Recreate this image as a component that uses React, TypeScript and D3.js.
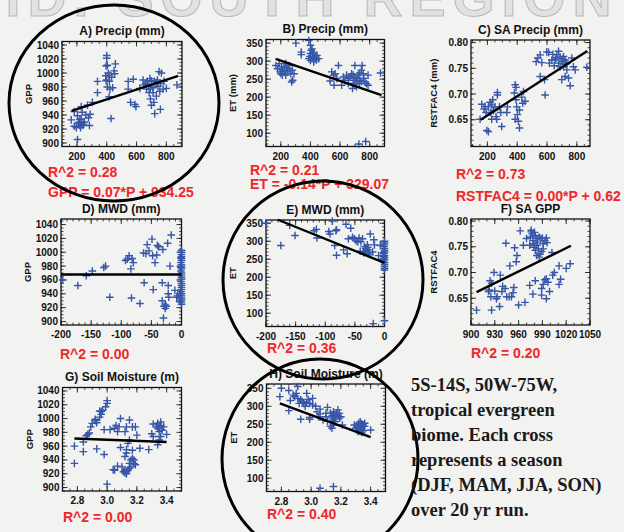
import React from "react";
import * as d3 from "d3";

// ---------- DATA ----------
const precipGPP: [number, number][] = [[162,933],[182,924],[196,922],[204,905],[182,945],[204,939],[210,928],[218,925],[225,922],[232,929],[220,934],[240,925],[244,927],[229,952],[271,954],[304,958],[278,936],[284,925],[229,934],[289,941],[250,930],[260,940],[235,944],[215,930],[338,988],[338,972],[400,1025],[400,1021],[396,1010],[404,1011],[393,996],[416,997],[400,990],[418,988],[404,980],[422,977],[440,979],[416,966],[429,935],[449,1003],[458,1013],[453,999],[433,994],[396,989],[410,1000],[544,988],[578,991],[544,977],[560,958],[589,955],[596,952],[622,978],[644,990],[662,985],[673,988],[682,981],[693,977],[684,972],[693,963],[700,954],[716,958],[722,942],[733,986],[744,981],[751,1002],[767,1000],[760,948],[778,977],[784,988],[711,972],[733,967],[756,974],[800,978],[871,983],[711,979],[700,989],[667,977],[650,983],[690,992],[720,988],[740,990],[760,985]];
const precipET: [number, number][] = [[167,288],[178,279],[189,293],[200,265],[211,275],[222,284],[233,261],[244,270],[256,279],[267,265],[256,288],[278,275],[233,293],[211,261],[289,265],[273,242],[280,247],[195,270],[205,285],[240,282],[225,272],[302,350],[338,325],[338,318],[389,357],[400,344],[411,334],[400,321],[389,307],[400,302],[422,307],[433,311],[444,316],[456,307],[422,298],[411,311],[396,313],[440,303],[416,325],[422,321],[405,330],[589,288],[544,270],[556,261],[567,265],[578,252],[533,245],[560,233],[622,256],[611,233],[633,247],[644,261],[656,252],[667,256],[678,265],[689,261],[700,288],[689,247],[700,238],[684,224],[711,252],[722,261],[733,267],[744,275],[749,288],[756,265],[760,252],[767,243],[729,238],[711,229],[778,238],[789,261],[789,233],[656,238],[744,243],[733,247],[873,267],[727,70],[773,77],[700,255],[715,245]];
const precipRST: [number, number][] = [[151,0.651],[162,0.680],[178,0.671],[191,0.664],[196,0.629],[207,0.627],[207,0.675],[218,0.684],[222,0.664],[229,0.651],[240,0.668],[251,0.675],[258,0.656],[263,0.651],[267,0.698],[267,0.703],[236,0.689],[281,0.675],[290,0.664],[296,0.637],[229,0.679],[184,0.676],[330,0.664],[334,0.675],[386,0.718],[392,0.713],[381,0.702],[392,0.689],[397,0.675],[386,0.651],[408,0.647],[415,0.634],[401,0.660],[430,0.694],[437,0.682],[453,0.686],[442,0.705],[415,0.669],[527,0.763],[538,0.770],[554,0.776],[565,0.761],[598,0.782],[610,0.781],[639,0.777],[632,0.766],[616,0.760],[554,0.734],[583,0.728],[587,0.698],[654,0.766],[666,0.776],[677,0.783],[688,0.772],[699,0.763],[710,0.773],[721,0.766],[733,0.760],[688,0.753],[699,0.728],[721,0.734],[744,0.731],[755,0.716],[733,0.747],[766,0.770],[777,0.753],[789,0.747],[867,0.752],[710,0.753],[677,0.760],[648,0.755],[660,0.770],[705,0.768],[725,0.758]];
const mwdGPP: [number, number][] = [[-197,960],[-172,952],[-158,966],[-148,973],[-129,978],[-126,980],[-119,935],[-93,988],[-90,990],[-87,995],[-84,976],[-82,991],[-80,985],[-83,934],[-69,926],[-63,999],[-62,956],[-59,998],[-57,1011],[-54,1002],[-49,1019],[-48,995],[-47,946],[-44,985],[-41,996],[-40,1010],[-38,1008],[-32,956],[-31,1004],[-32,930],[-30,905],[-29,922],[-27,924],[-25,922],[-27,919],[-23,1013],[-22,952],[-22,940],[-19,980],[-21,935],[-17,1025],[-11,945],[-8,935],[-7,937],[-3,938],[-3,929],[0,1003],[0,1000],[0,997],[0,994],[0,991],[0,988],[-1,985],[0,982],[0,979],[0,976],[-1,973],[0,970],[0,967],[0,964],[0,961],[-1,958],[0,955],[0,952],[0,949],[0,946],[-1,943],[0,940],[0,937],[0,934],[0,931],[0,928],[0,925],[-1,992],[-1,978]];
const mwdET: [number, number][] = [[-199,350],[-175,288],[-160,344],[-151,316],[-119,329],[-115,333],[-114,309],[-94,327],[-92,320],[-88,356],[-84,288],[-82,329],[-81,332],[-81,261],[-69,276],[-63,265],[-65,347],[-61,307],[-57,336],[-54,311],[-51,307],[-48,301],[-45,298],[-43,309],[-40,299],[-37,307],[-41,272],[-34,285],[-32,280],[-31,275],[-29,290],[-28,283],[-33,270],[-27,276],[-26,268],[-24,320],[-20,270],[-18,304],[-17,290],[-19,71],[-7,288],[0,79],[-30,278],[-35,268],[-25,263],[-10,260],[0,300],[0,295],[0,290],[-1,285],[0,280],[0,275],[0,270],[-1,265],[0,260],[0,255],[0,250],[-1,245],[0,240],[0,235],[0,230],[0,225],[0,220],[-2,258],[-3,250],[-2,268]];
const gppRST: [number, number][] = [[907,0.627],[926,0.627],[936,0.634],[924,0.684],[926,0.679],[922,0.663],[925,0.653],[923,0.666],[929,0.700],[937,0.695],[930,0.664],[933,0.653],[932,0.649],[939,0.663],[940,0.673],[943,0.669],[945,0.653],[948,0.653],[944,0.757],[949,0.713],[951,0.653],[953,0.661],[954,0.671],[957,0.721],[958,0.733],[955,0.748],[960,0.637],[962,0.781],[966,0.753],[968,0.642],[970,0.766],[974,0.675],[974,0.753],[975,0.769],[976,0.779],[976,0.782],[978,0.762],[979,0.756],[979,0.749],[981,0.772],[982,0.766],[983,0.753],[984,0.759],[985,0.746],[986,0.769],[988,0.766],[990,0.767],[991,0.756],[993,0.762],[995,0.767],[989,0.741],[986,0.730],[983,0.733],[981,0.743],[987,0.736],[991,0.746],[978,0.658],[981,0.684],[989,0.669],[989,0.656],[991,0.677],[993,0.686],[995,0.688],[997,0.681],[995,0.649],[999,0.663],[1002,0.739],[1003,0.695],[1005,0.700],[1011,0.713],[1011,0.677],[1013,0.687],[1020,0.708],[1025,0.717],[977,0.775],[980,0.778],[996,0.758]];
const smGPP: [number, number][] = [[2.78,935],[2.78,960],[2.84,952],[2.84,966],[2.86,975],[2.87,977],[2.88,979],[2.89,988],[2.90,993],[2.92,997],[2.92,999],[2.93,994],[2.93,956],[2.95,1002],[2.95,1011],[2.96,1010],[2.97,1012],[2.96,1006],[2.98,948],[2.98,984],[2.99,1017],[3.00,1022],[3.00,1026],[3.00,905],[3.02,984],[3.04,926],[3.05,925],[3.07,931],[3.05,986],[3.06,990],[3.07,981],[3.08,988],[3.09,958],[3.09,1000],[3.10,930],[3.11,923],[3.12,921],[3.12,925],[3.13,920],[3.13,923],[3.12,945],[3.13,950],[3.13,955],[3.14,964],[3.15,969],[3.15,998],[3.13,988],[3.12,981],[3.15,935],[3.16,940],[3.16,930],[3.17,942],[3.17,954],[3.18,935],[3.19,933],[3.18,940],[3.17,988],[3.19,988],[3.20,976],[3.22,957],[3.28,955],[3.30,978],[3.31,992],[3.33,989],[3.34,993],[3.34,986],[3.35,988],[3.35,981],[3.36,995],[3.36,990],[3.37,983],[3.38,988],[3.36,974],[3.34,962],[3.35,969],[3.31,974],[3.40,977],[3.14,925],[3.15,928]];
const smET: [number, number][] = [[2.80,350],[2.79,327],[2.85,344],[2.86,316],[2.85,288],[2.88,331],[2.89,327],[2.90,336],[2.91,322],[2.91,355],[2.92,308],[2.93,319],[2.94,313],[2.95,308],[2.97,336],[2.93,264],[2.97,310],[2.98,319],[2.99,308],[3.01,304],[2.99,264],[2.99,269],[3.01,322],[3.04,285],[3.05,271],[3.06,292],[3.06,279],[3.10,281],[3.10,271],[3.11,297],[3.13,281],[3.14,273],[3.14,267],[3.15,262],[3.15,285],[3.16,276],[3.16,269],[3.17,281],[3.18,290],[3.18,273],[3.19,267],[3.19,281],[3.20,271],[3.16,257],[3.13,244],[3.14,239],[3.15,248],[3.21,248],[3.06,72],[3.15,77],[3.29,248],[3.30,239],[3.31,244],[3.32,253],[3.33,234],[3.33,245],[3.33,257],[3.34,239],[3.35,248],[3.35,232],[3.34,227],[3.32,230],[3.31,232],[3.36,244],[3.36,253],[3.34,251],[3.33,239],[3.40,234],[3.08,262],[3.11,258],[3.03,300],[2.96,300]];

// regression fits: [slope, intercept, xStart, xEnd]
const fitA = [0.07, 934.25, 165, 880];
const fitB = [-0.14, 329.07, 165, 880];
const fitC = [0.000187, 0.621, 155, 870];
const fitD = [0, 968, -200, 0];
const fitE = [-0.665, 240, -180, 0];
const fitF = [0.000756, -0.0237, 907, 1026];
const fitG = [-8.06, 993.4, 2.78, 3.4];
const fitH = [-154.1, 738.0, 2.79, 3.4];

const titles = ["A) Precip (mm)", "B) Precip (mm)", "C) SA Precip (mm)", "D) MWD (mm)", "E) MWD (mm)", "F) SA GPP", "G) Soil Moisture (m)", "H) Soil Moisture (m)"];
const yLabels = ["GPP", "ET (mm)", "RSTFAC4 (mm)", "GPP", "ET", "RSTFAC4", "GPP", "ET"];
const statsA = ["R^2 = 0.28", "GPP = 0.07*P + 934.25"];
const statsB = ["R^2 = 0.21", "ET = -0.14*P + 329.07"];
const statsC = ["R^2 = 0.73", "RSTFAC4 = 0.00*P + 0.62"];
const statsD = ["R^2 = 0.00"];
const statsE = ["R^2 = 0.36"];
const statsF = ["R^2 = 0.20"];
const statsG = ["R^2 = 0.00"];
const statsH = ["R^2 = 0.40"];

const gppTicks = [900, 920, 940, 960, 980, 1000, 1020, 1040];
const etTicks = [100, 150, 200, 250, 300, 350];
const rstTicks = [0.65, 0.7, 0.75, 0.8];
const precipTicks = [200, 400, 600, 800];
const mwdTicks = [-200, -150, -100, -50, 0];
const sagppTicks = [900, 930, 960, 990, 1020, 1050];
const smTicks = [2.8, 3.0, 3.2, 3.4];

const noteLines = ["5S-14S, 50W-75W,", "tropical evergreen", "biome. Each cross", "represents a season", "(DJF, MAM, JJA, SON)", "over 20 yr run."];
const bigTitle = "ID. SOUTH REGION";

// ---------- LAYOUT ----------
type Panel = {
  data: [number, number][]; fit: number[]; title: string; yLabel: string; stats: string[];
  box: [number, number, number, number]; xd: [number, number]; yd: [number, number];
  xt: number[]; yt: number[]; xMinor: number; yMinor: number; xFmt: (v: number) => string; yFmt: (v: number) => string;
  statX: number; statY: number[];
};
const intF = (v: number) => String(v);
const f1 = d3.format(".1f");
const f2 = d3.format(".2f");

const panels: Panel[] = [
  { data: precipGPP, fit: fitA, title: titles[0], yLabel: yLabels[0], stats: statsA, box: [62, 41.5, 182, 146.5], xd: [100, 905], yd: [895, 1045], xt: precipTicks, yt: gppTicks, xMinor: 50, yMinor: 5, xFmt: intF, yFmt: intF, statX: 48, statY: [177, 197] },
  { data: precipET, fit: fitB, title: titles[1], yLabel: yLabels[1], stats: statsB, box: [266, 39.5, 384.5, 146.5], xd: [100, 900], yd: [63, 360], xt: precipTicks, yt: etTicks, xMinor: 50, yMinor: 10, xFmt: intF, yFmt: intF, statX: 250, statY: [175, 189] },
  { data: precipRST, fit: fitC, title: titles[2], yLabel: yLabels[2], stats: statsC, box: [471, 40, 590, 146.5], xd: [90, 888], yd: [0.598, 0.805], xt: precipTicks, yt: rstTicks, xMinor: 50, yMinor: 0.01, xFmt: intF, yFmt: f2, statX: 456, statY: [179, 201] },
  { data: mwdGPP, fit: fitD, title: titles[3], yLabel: yLabels[3], stats: statsD, box: [61, 219, 181.5, 325], xd: [-200, 0], yd: [895, 1048], xt: mwdTicks, yt: gppTicks, xMinor: 10, yMinor: 5, xFmt: intF, yFmt: intF, statX: 60, statY: [358.5] },
  { data: mwdET, fit: fitE, title: titles[4], yLabel: yLabels[4], stats: statsE, box: [266, 220, 384.5, 326.5], xd: [-200, 0], yd: [63, 359], xt: mwdTicks, yt: etTicks, xMinor: 10, yMinor: 10, xFmt: intF, yFmt: intF, statX: 267, statY: [353] },
  { data: gppRST, fit: fitF, title: titles[5], yLabel: yLabels[5], stats: statsF, box: [471, 219, 590, 325], xd: [900, 1050], yd: [0.598, 0.804], xt: sagppTicks, yt: rstTicks, xMinor: 10, yMinor: 0.01, xFmt: intF, yFmt: f2, statX: 471, statY: [358] },
  { data: smGPP, fit: fitG, title: titles[6], yLabel: yLabels[6], stats: statsG, box: [62.5, 387.5, 181.5, 491], xd: [2.7, 3.5], yd: [895, 1045], xt: smTicks, yt: gppTicks, xMinor: 0.05, yMinor: 5, xFmt: f1, yFmt: intF, statX: 63, statY: [522] },
  { data: smET, fit: fitH, title: titles[7], yLabel: yLabels[7], stats: statsH, box: [266.5, 384, 385.5, 491.5], xd: [2.7, 3.5], yd: [63, 362], xt: smTicks, yt: etTicks, xMinor: 0.05, yMinor: 10, xFmt: f1, yFmt: intF, statX: 267, statY: [519] },
];

const circles = [
  { cx: 114, cy: 103, rx: 105, ry: 98 },
  { cx: 323, cy: 280, rx: 100, ry: 99 },
  { cx: 320, cy: 459, rx: 98, ry: 100 },
];

const SANS = "'Liberation Sans', Arial, Helvetica, sans-serif";
const BLUE = "#3656a8";
const RED = "#f0262b";

function minorTicks(d: [number, number], step: number): number[] {
  const lo = Math.min(d[0], d[1]), hi = Math.max(d[0], d[1]);
  const out: number[] = [];
  const start = Math.ceil(lo / step - 1e-9);
  const end = Math.floor(hi / step + 1e-9);
  for (let i = start; i <= end; i++) out.push(i * step);
  return out;
}

function PanelView({ p }: { p: Panel }) {
  const [x0, y0, x1, y1] = p.box;
  const xs = d3.scaleLinear().domain(p.xd).range([x0, x1]);
  const ys = d3.scaleLinear().domain(p.yd).range([y1, y0]);
  const cx = (x0 + x1) / 2, cy = (y0 + y1) / 2;
  const line = d3.line<number>().x((v) => xs(v)).y((v) => ys(p.fit[0] * v + p.fit[1]));
  const maj = 5, mnr = 2.5;
  return (
    <g>
      <text x={cx} y={y0 - 6.5} textAnchor="middle" fontFamily={SANS} fontWeight="bold" fontSize={12} fill="#111">{p.title}</text>
      <text transform={`translate(${x0 - 30 - (p.yt[0] < 1 ? 4 : 0)},${cy}) rotate(-90)`} textAnchor="middle" fontFamily={SANS} fontWeight="bold" fontSize={9.5} fill="#111">{p.yLabel}</text>
      {minorTicks(p.xd, p.xMinor).map((v, i) => (
        <g key={"xm" + i} stroke="#222" strokeWidth={0.8}>
          <line x1={xs(v)} x2={xs(v)} y1={y1} y2={y1 - mnr} />
          <line x1={xs(v)} x2={xs(v)} y1={y0} y2={y0 + mnr} />
        </g>
      ))}
      {minorTicks(p.yd, p.yMinor).map((v, i) => (
        <g key={"ym" + i} stroke="#222" strokeWidth={0.8}>
          <line x1={x0} x2={x0 + mnr} y1={ys(v)} y2={ys(v)} />
          <line x1={x1} x2={x1 - mnr} y1={ys(v)} y2={ys(v)} />
        </g>
      ))}
      {p.xt.map((v, i) => (
        <g key={"xt" + i}>
          <line x1={xs(v)} x2={xs(v)} y1={y1} y2={y1 - maj} stroke="#222" strokeWidth={0.9} />
          <line x1={xs(v)} x2={xs(v)} y1={y0} y2={y0 + maj} stroke="#222" strokeWidth={0.9} />
          <text x={xs(v)} y={y1 + 13} textAnchor="middle" fontFamily={SANS} fontWeight="bold" fontSize={10} fill="#111">{p.xFmt(v)}</text>
        </g>
      ))}
      {p.yt.map((v, i) => (
        <g key={"yt" + i}>
          <line x1={x0} x2={x0 + maj} y1={ys(v)} y2={ys(v)} stroke="#222" strokeWidth={0.9} />
          <line x1={x1} x2={x1 - maj} y1={ys(v)} y2={ys(v)} stroke="#222" strokeWidth={0.9} />
          <text x={x0 - 3} y={ys(v) + 3.5} textAnchor="end" fontFamily={SANS} fontWeight="bold" fontSize={10} fill="#111">{p.yFmt(v)}</text>
        </g>
      ))}
      <rect x={x0} y={y0} width={x1 - x0} height={y1 - y0} fill="none" stroke="#111" strokeWidth={1.3} />
      {p.data.map((d, i) => {
        const px = xs(d[0]), py = ys(d[1]);
        return (
          <path key={"pt" + i} d={`M${px - 3.8},${py}H${px + 3.8}M${px},${py - 3.8}V${py + 3.8}`} stroke={BLUE} strokeWidth={1.4} />
        );
      })}
      <path d={line([p.fit[2], p.fit[3]]) || ""} stroke="#000" strokeWidth={2.4} fill="none" />
      {p.stats.map((s, i) => (
        <text key={"st" + i} x={p.statX} y={p.statY[i]} fontFamily={SANS} fontWeight="bold" fontSize={14} fill={RED}>{s}</text>
      ))}
    </g>
  );
}

export default function App() {
  return (
    <div style={{ position: "fixed", left: 0, top: 0 }}>
      <svg width={624} height={532} viewBox="0 0 624 532">
        <rect x={0} y={0} width={624} height={532} fill="#f2f2f0" />
        <text x={312} y={16} textAnchor="middle" fontFamily={SANS} fontWeight="bold" fontSize={54} letterSpacing={7} fill="#e2e2e2" stroke="#b8b8b8" strokeWidth={1}>{bigTitle}</text>
        {panels.map((p, i) => <PanelView key={i} p={p} />)}
        {circles.map((c, i) => (
          <ellipse key={"c" + i} cx={c.cx} cy={c.cy} rx={c.rx} ry={c.ry} fill="none" stroke="#000" strokeWidth={3} />
        ))}
        {noteLines.map((t, i) => (
          <text key={"n" + i} x={411} y={391 + i * 25} fontFamily="'Liberation Serif', 'Times New Roman', serif" fontWeight="bold" fontSize={18.5} fill="#1a1a1a">{t}</text>
        ))}
      </svg>
    </div>
  );
}
